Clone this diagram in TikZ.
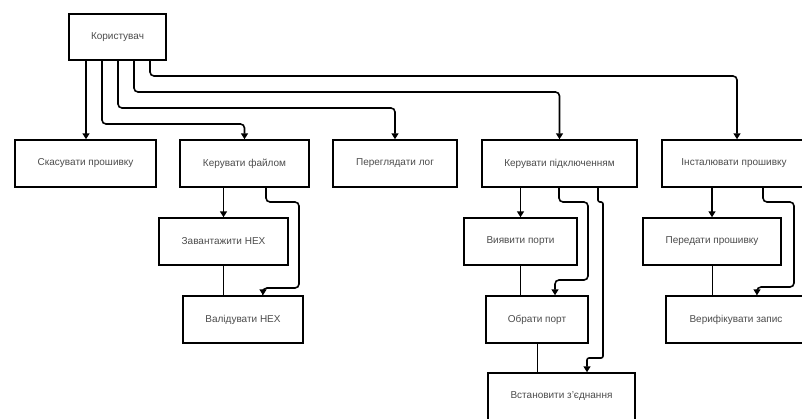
\documentclass[tikz,border=0pt]{standalone}
\usepackage{fontspec}
\setmainfont{Liberation Sans}
\usetikzlibrary{arrows.meta}

\begin{document}
\begin{tikzpicture}[x=1pt, y=-1pt,
    every node/.style = {shape=rectangle, draw, line width=1.5pt,
    fill=white, align=center, text=black!70,
    font=\fontsize{10}{12}\selectfont, minimum height=47pt},
    % connectors
    flow/.style={line width=1.6pt, rounded corners=4pt,
      -{Triangle[width=7pt,length=6pt]}},
    link/.style={line width=0.9pt},
    ]
    \useasboundingbox (0,0) rectangle (802,418);
    \clip (0,0) rectangle (802,418);
    \fill[white] (0,0) rectangle (802,418);

    \node[minimum width=97pt, minimum height=46pt] (user) at (117.5,37) {Користувач};

    \node[minimum width=141pt] (cancel)  at (85.5,163.5) {Скасувати прошивку};
    \node[minimum width=129pt] (file)    at (244.5,163.5) {Керувати файлом};
    \node[minimum width=124pt] (log)     at (395,163.5) {Переглядати лог};
    \node[minimum width=155pt] (conn)    at (559.5,163.5) {Керувати підключенням};
    \node[minimum width=144pt] (install) at (734,163.5) {Інсталювати прошивку};

    \node[minimum width=129pt] (load)   at (223.5,241.5) {Завантажити HEX};
    \node[minimum width=120pt] (valid)  at (243,319.5) {Валідувати HEX};
    \node[minimum width=113pt] (detect) at (520.5,241.5) {Виявити порти};
    \node[minimum width=102pt] (choose) at (537,319.5) {Обрати порт};
    \node[minimum width=147pt] (establish) at (561.5,396.5) {Встановити з’єднання};
    \node[minimum width=138pt] (send)   at (712,241.5) {Передати прошивку};
    \node[minimum width=140pt] (verify) at (736,319.5) {Верифікувати запис};

    % from the user
    \draw[flow] (86,0 |- user.south) -- (86,0 |- cancel.north);
    \draw[flow] (102,0 |- user.south) |- (file.north |- 0,124) -- (file.north);
    \draw[flow] (118,0 |- user.south) |- (log.north |- 0,108) -- (log.north);
    \draw[flow] (134,0 |- user.south) |- (conn.north |- 0,92) -- (conn.north);
    \draw[flow] (150,0 |- user.south) |- (737,76) -- (737,0 |- install.north);

    % file
    \draw[flow] (load.north |- file.south) -- (load.north);
    \draw[flow] (266,0 |- file.south) |- (299,202) |- (263,288) -- (263,0 |- valid.north);
    \draw[link] (load.south) -- (load.south |- valid.north);

    % connection
    \draw[flow] (detect.north |- conn.south) -- (detect.north);
    \draw[flow] (559,0 |- conn.south) |- (588,202) |- (555,280) -- (555,0 |- choose.north);
    \draw[flow, rounded corners=2pt] (598,0 |- conn.south) |- (603,202) |- (587,358) -- (587,0 |- establish.north);
    \draw[link] (detect.south) -- (detect.south |- choose.north);
    \draw[link] (choose.south) -- (choose.south |- establish.north);

    % install
    \draw[flow] (send.north |- install.south) -- (send.north);
    \draw[flow] (763,0 |- install.south) |- (794,202) |- (757,287) -- (757,0 |- verify.north);
    \draw[link] (send.south) -- (send.south |- verify.north);

\end{tikzpicture}
\end{document}
